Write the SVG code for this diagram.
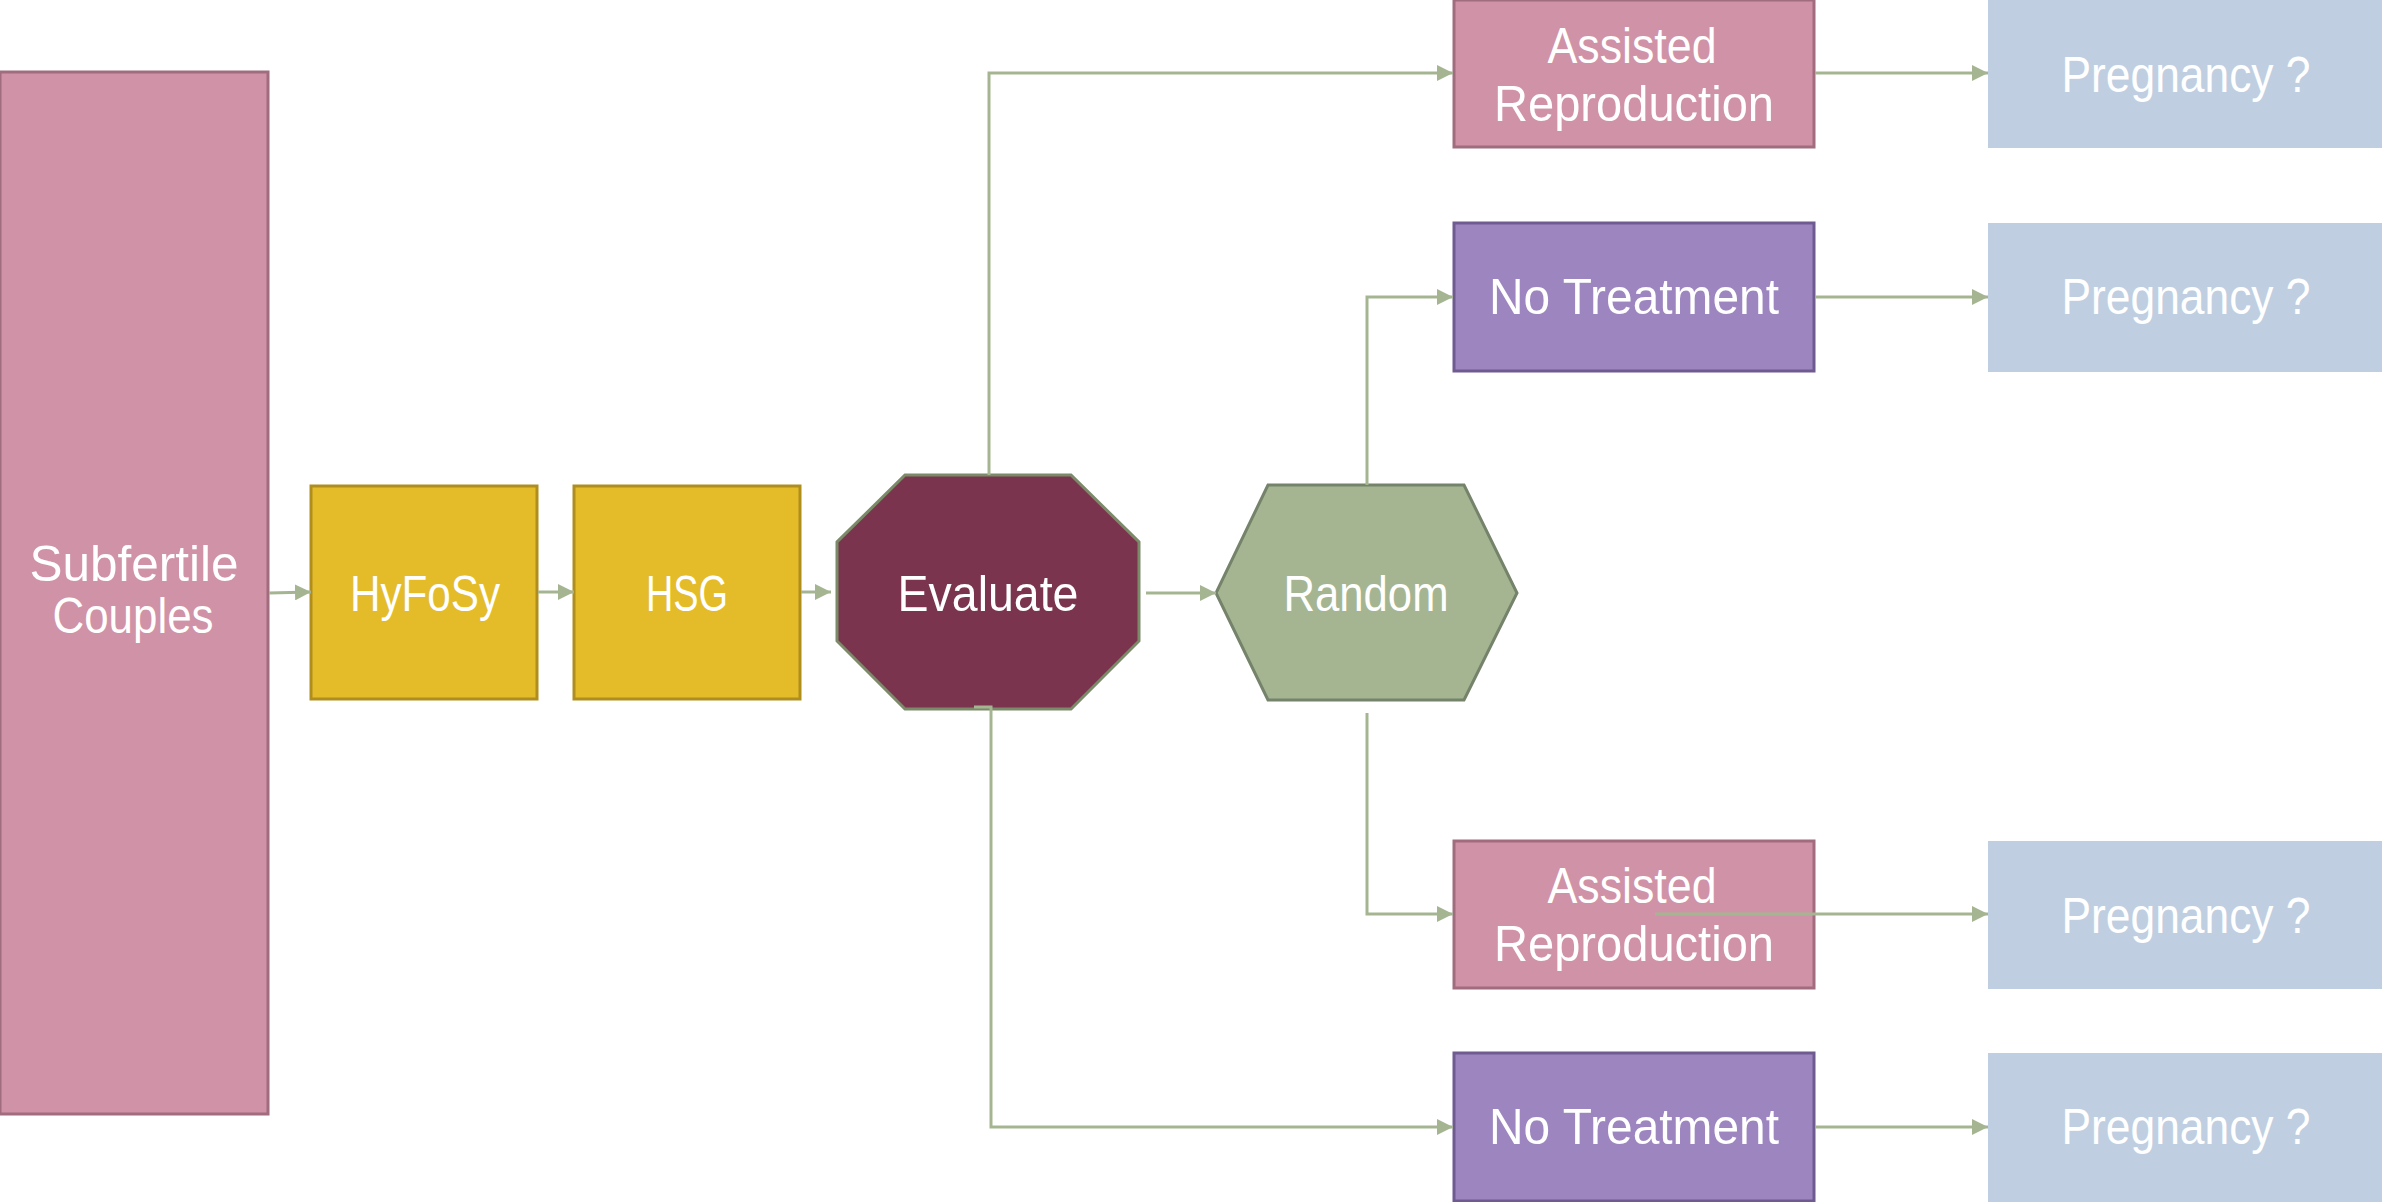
<svg xmlns="http://www.w3.org/2000/svg" width="2382" height="1202" viewBox="0 0 2382 1202">
  <defs>
    <marker id="arrow" markerUnits="userSpaceOnUse" markerWidth="17" markerHeight="16" refX="16" refY="8" orient="auto">
      <path d="M0,0 L16,8 L0,16 Z" fill="#a5b592"/>
    </marker>
    <style>
      .lbl { font-family: "Liberation Sans", Arial, sans-serif; font-size: 50px; fill: #ffffff; text-anchor: middle; }
      .pink { fill: #d092a6; stroke: #a06c7e; stroke-width: 3; }
      .gold { fill: #e4bc29; stroke: #b08e1e; stroke-width: 3; }
      .violet { fill: #9d86bf; stroke: #6f5b90; stroke-width: 3; }
      .outcome { fill: #bfcfe1; }
      .link { fill: none; stroke: #a5b592; stroke-width: 3; marker-end: url(#arrow); }
    </style>
  </defs>
  <rect width="2382" height="1202" fill="#ffffff"/>

  <g id="subfertile-couples">
    <rect class="pink" x="0" y="72" width="268" height="1042"/>
    <text class="lbl" x="134" y="581" textLength="209" lengthAdjust="spacingAndGlyphs">Subfertile</text>
    <text class="lbl" x="133" y="633" textLength="161" lengthAdjust="spacingAndGlyphs">Couples</text>
  </g>

  <g id="hyfosy">
    <rect class="gold" x="311" y="486" width="226" height="213"/>
    <text class="lbl" x="425" y="611" textLength="150" lengthAdjust="spacingAndGlyphs">HyFoSy</text>
  </g>

  <g id="hsg">
    <rect class="gold" x="574" y="486" width="226" height="213"/>
    <text class="lbl" x="687" y="611" textLength="82" lengthAdjust="spacingAndGlyphs">HSG</text>
  </g>

  <g id="evaluate">
    <polygon points="905,475 1071,475 1139,542 1139,641 1071,709 905,709 837,641 837,542" fill="#7b344d" stroke="#7b8b6a" stroke-width="3"/>
    <text class="lbl" x="988" y="611" textLength="181" lengthAdjust="spacingAndGlyphs">Evaluate</text>
  </g>

  <g id="random">
    <polygon points="1268,485 1464,485 1517,593 1464,700 1268,700 1216,593" fill="#a5b592" stroke="#74836a" stroke-width="3"/>
    <text class="lbl" x="1366" y="611" textLength="165" lengthAdjust="spacingAndGlyphs">Random</text>
  </g>

  <g id="assisted-reproduction-1">
    <rect class="pink" x="1454" y="0" width="360" height="147"/>
    <text class="lbl" x="1632" y="63" textLength="169" lengthAdjust="spacingAndGlyphs">Assisted</text>
    <text class="lbl" x="1634" y="121" textLength="280" lengthAdjust="spacingAndGlyphs">Reproduction</text>
  </g>

  <g id="no-treatment-1">
    <rect class="violet" x="1454" y="223" width="360" height="148"/>
    <text class="lbl" x="1634" y="314" textLength="290" lengthAdjust="spacingAndGlyphs">No Treatment</text>
  </g>

  <g id="assisted-reproduction-2">
    <rect class="pink" x="1454" y="841" width="360" height="147"/>
    <text class="lbl" x="1632" y="903" textLength="169" lengthAdjust="spacingAndGlyphs">Assisted</text>
    <text class="lbl" x="1634" y="961" textLength="280" lengthAdjust="spacingAndGlyphs">Reproduction</text>
  </g>

  <g id="no-treatment-2">
    <rect class="violet" x="1454" y="1053" width="360" height="148"/>
    <text class="lbl" x="1634" y="1144" textLength="290" lengthAdjust="spacingAndGlyphs">No Treatment</text>
  </g>

  <g id="pregnancy-1">
    <rect class="outcome" x="1988" y="0" width="394" height="148"/>
    <text class="lbl" x="2186" y="92" textLength="249" lengthAdjust="spacingAndGlyphs">Pregnancy ?</text>
  </g>

  <g id="pregnancy-2">
    <rect class="outcome" x="1988" y="223" width="394" height="149"/>
    <text class="lbl" x="2186" y="314" textLength="249" lengthAdjust="spacingAndGlyphs">Pregnancy ?</text>
  </g>

  <g id="pregnancy-3">
    <rect class="outcome" x="1988" y="841" width="394" height="148"/>
    <text class="lbl" x="2186" y="933" textLength="249" lengthAdjust="spacingAndGlyphs">Pregnancy ?</text>
  </g>

  <g id="pregnancy-4">
    <rect class="outcome" x="1988" y="1053" width="394" height="149"/>
    <text class="lbl" x="2186" y="1144" textLength="249" lengthAdjust="spacingAndGlyphs">Pregnancy ?</text>
  </g>

  <g id="connectors">
    <path class="link" d="M269,593 L311,592"/>
    <path class="link" d="M538,592 H574"/>
    <path class="link" d="M801,592 H831"/>
    <path class="link" d="M1146,593 H1216"/>
    <path class="link" d="M989,475 V73 H1453"/>
    <path class="link" d="M1367,485 V297 H1453"/>
    <path class="link" d="M1367,713 V914 H1453"/>
    <path class="link" d="M974,707 H991 V1127 H1453"/>
    <path class="link" d="M1815,73 H1988"/>
    <path class="link" d="M1815,297 H1988"/>
    <path class="link" d="M1655,914 H1988"/>
    <path class="link" d="M1815,1127 H1988"/>
  </g>
</svg>
